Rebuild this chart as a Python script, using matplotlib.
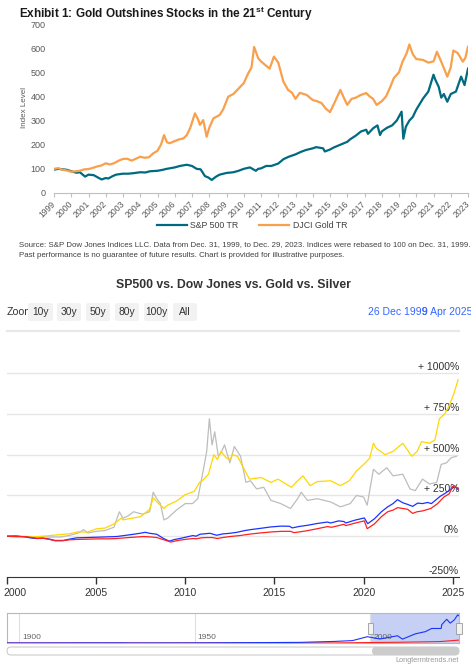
import matplotlib.pyplot as plt
from matplotlib.patches import FancyBboxPatch, Rectangle
from matplotlib.transforms import Affine2D

plt.rcParams['font.family'] = ['Liberation Sans', 'DejaVu Sans']
plt.rcParams['mathtext.fontset'] = 'custom'
plt.rcParams['mathtext.rm'] = 'Liberation Sans'
plt.rcParams['mathtext.bf'] = 'Liberation Sans:bold'

W, H = 471, 669

# ---------------- Exhibit 1 (index level, rebased to 100) ----------------
ex_years = [str(y) for y in range(1999, 2024)]

sp_t = [0, 0.25, 0.5, 0.75, 1.0, 1.3, 1.5, 1.8, 2.0, 2.3, 2.5, 2.76, 3.0, 3.15,
        3.4, 3.6, 4.0, 4.3, 4.6, 5.0, 5.3, 5.56, 6.0, 6.3, 6.53, 7.0, 7.3, 7.7,
        8.0, 8.27, 8.5, 8.75, 8.95, 9.14, 9.4, 9.6, 10.0, 10.4, 10.7, 11.0,
        11.36, 11.7, 11.84, 12.0, 12.3, 12.6, 13.0, 13.3, 13.6, 14.0, 14.3,
        14.6, 15.0, 15.2, 15.6, 15.7, 16.0, 16.2, 16.6, 17.0, 17.16, 17.5,
        17.8, 18.1, 18.2, 18.5, 18.75, 18.9, 19.0, 19.3, 19.6, 19.87, 20.15,
        20.25, 20.4, 20.6, 20.8, 21.0, 21.4, 21.7, 22.0, 22.1, 22.3, 22.45,
        22.6, 22.8, 23.0, 23.3, 23.6, 23.8, 24.0]
sp_level = [97, 100, 98, 96, 90, 84, 86, 68, 76, 74, 66, 56, 62, 60,
            70, 76, 80, 80, 82, 86, 85, 90, 92, 96, 100, 106, 112, 117,
            112, 100, 98, 70, 64, 54, 68, 76, 83, 86, 92, 100,
            106, 92, 100, 102, 112, 112, 122, 140, 150, 160, 170,
            178, 185, 190, 185, 172, 180, 188, 200, 212, 222, 238,
            255, 262, 245, 268, 280, 240, 255, 270, 280, 300, 337,
            225, 275, 300, 315, 345, 392, 420, 490, 470, 440, 395,
            410, 378, 410, 420, 482, 447, 515]

gold_t = [0, 0.25, 0.5, 0.75, 1.0, 1.25, 1.5, 1.75, 2.0, 2.25, 2.5, 2.75, 3.0,
          3.25, 3.5, 3.75, 4.0, 4.25, 4.5, 4.75, 5.0, 5.25, 5.5, 5.75, 6.0,
          6.2, 6.38, 6.55, 6.7, 7.0, 7.25, 7.5, 7.7, 7.9, 8.17, 8.35, 8.46,
          8.65, 8.85, 9.0, 9.24, 9.6, 9.8, 10.1, 10.4, 10.8, 11.0, 11.26,
          11.45, 11.6, 11.84, 12.0, 12.25, 12.5, 12.75, 13.0, 13.3, 13.57,
          13.8, 14.0, 14.25, 14.65, 15.0, 15.25, 15.5, 15.75, 16.0, 16.3,
          16.6, 16.8, 17.0, 17.25, 17.5, 17.75, 18.1, 18.3, 18.5, 18.7, 19.0,
          19.25, 19.5, 19.7, 20.0, 20.2, 20.45, 20.6, 20.8, 21.0, 21.4, 21.7,
          22.0, 22.2, 22.5, 22.8, 23.0, 23.15, 23.4, 23.7, 23.85, 24.0]
gold_level = [100, 103, 96, 93, 88, 90, 92, 98, 99, 104, 110, 114, 123,
              118, 124, 134, 141, 142, 134, 142, 150, 146, 148, 164, 175,
              200, 240, 210, 206, 215, 222, 226, 240, 270, 330, 305, 282,
              302, 233, 270, 309, 323, 345, 399, 410, 440, 455, 496,
              520, 605, 558, 545, 530, 515, 565, 540, 461, 427,
              415, 390, 415, 406, 385, 380, 373, 350, 335, 380,
              427, 395, 365, 390, 395, 405, 414, 400, 390, 365, 380,
              400, 440, 476, 500, 543, 580, 615, 575, 555, 551, 540,
              545, 585, 535, 482, 520, 590, 580, 544, 560, 606]

# ---------------- Longtermtrends (% change since Dec 1999) ----------------
spx_yr = [2000.0, 2000.5, 2001.0, 2001.3, 2001.63, 2002.0, 2002.4, 2002.69,
          2003.16, 2003.5, 2003.9, 2004.5, 2005.03, 2005.6, 2006.15, 2006.7,
          2007.1, 2007.46, 2007.75, 2008.0, 2008.4, 2008.78, 2009.1, 2009.4,
          2009.7, 2010.1, 2010.43, 2010.6, 2010.82, 2011.38, 2011.76, 2012.1,
          2012.5, 2012.9, 2013.3, 2013.7, 2014.2, 2014.8, 2015.4, 2015.84,
          2016.0, 2016.4, 2016.85, 2017.4, 2017.97, 2018.15, 2018.6, 2018.9,
          2019.0, 2019.5, 2020.04, 2020.23, 2020.6, 2021.0, 2021.35, 2021.65,
          2021.9, 2022.2, 2022.47, 2022.75, 2023.03, 2023.3, 2023.59, 2023.8,
          2023.97, 2024.3, 2024.53, 2024.8, 2025.0, 2025.15, 2025.28]
spx_pct = [0, 2, -4, -10, -14, -12, -18, -26,
           -26, -18, -10, -8, -6, -4, -2, 6,
           12, 18, 24, 18, 12, -14, -30, -20,
           -14, -4, 4, 0, 12, 18, 6, 14,
           18, 24, 34, 41, 48, 57, 62, 61,
           51, 60, 67, 78, 87, 81, 94, 90,
           81, 98, 112, 77, 106, 150, 180, 200,
           224, 205, 195, 183, 203, 200, 207, 200,
           215, 245, 260, 280, 300, 302, 288]

dow_yr = [2000.0, 2000.5, 2001.0, 2001.4, 2001.7, 2002.0, 2002.4, 2002.7,
          2003.1, 2003.5, 2003.9, 2004.5, 2005.2, 2005.7, 2006.15, 2006.6,
          2007.1, 2007.65, 2008.0, 2008.4, 2008.8, 2009.2, 2009.4, 2009.7,
          2010.1, 2010.45, 2010.6, 2010.9, 2011.2, 2011.5, 2011.8, 2012.1,
          2012.5, 2013.05, 2013.7, 2014.2, 2014.8, 2015.4, 2015.9, 2016.1,
          2016.5, 2016.85, 2017.4, 2017.97, 2018.2, 2018.6, 2018.9, 2019.0,
          2019.5, 2020.04, 2020.2, 2020.6, 2021.0, 2021.35, 2021.65, 2021.9,
          2022.2, 2022.47, 2022.75, 2023.0, 2023.3, 2023.77, 2024.15, 2024.5,
          2024.8, 2025.0, 2025.1, 2025.28]
dow_pct = [0, -2, -2, -8, -14, -12, -20, -28,
           -28, -22, -20, -18, -16, -16, -14, -10,
           -6, -2, -4, -8, -22, -36, -30, -24,
           -18, -14, -16, -10, -8, -8, -14, -8,
           -2, 4, 14, 20, 26, 30, 30, 22,
           28, 34, 46, 59, 55, 65, 73, 65,
           80, 94, 46, 75, 120, 150, 160, 175,
           170, 165, 140, 150, 155, 170, 200, 240,
           260, 305, 310, 292]

gold_yr = [2000.0, 2000.5, 2001.0, 2001.5, 2002.0, 2002.5, 2003.0, 2003.5,
           2004.0, 2004.5, 2005.0, 2005.5, 2006.0, 2006.4, 2006.5, 2007.0,
           2007.5, 2008.0, 2008.2, 2008.5, 2008.8, 2009.0, 2009.5, 2010.0,
           2010.5, 2010.8, 2011.0, 2011.3, 2011.6, 2011.8, 2012.0, 2012.3,
           2012.5, 2012.65, 2012.93, 2013.3, 2013.6, 2014.25, 2014.8, 2015.2,
           2015.95, 2016.3, 2016.6, 2017.0, 2017.4, 2018.15, 2018.7, 2019.2,
           2019.6, 2020.1, 2020.35, 2020.55, 2020.7, 2021.2, 2021.65, 2022.2,
           2022.7, 2023.0, 2023.25, 2023.7, 2024.0, 2024.25, 2024.55, 2024.8,
           2025.05, 2025.3]
gold_pct = [0, -4, -3, -4, 0, 5, 10, 15,
            27, 25, 45, 50, 75, 110, 100, 110,
            120, 165, 235, 200, 170, 190, 215, 255,
            275, 330, 345, 380, 500, 470, 520, 480,
            470, 500, 490, 410, 350, 360, 330, 350,
            300, 340, 370, 310, 335, 340, 310, 340,
            400, 450, 480, 570, 540, 500, 520, 570,
            490, 520, 580, 570, 590, 720, 750, 800,
            870, 960]

silver_yr = [2000.0, 2000.5, 2001.0, 2001.5, 2002.0, 2003.0, 2003.5, 2004.0,
             2004.3, 2004.55, 2005.0, 2005.5, 2006.0, 2006.3, 2006.5, 2006.8,
             2007.1, 2007.6, 2008.0, 2008.2, 2008.4, 2008.6, 2008.8, 2009.0,
             2009.5, 2010.0, 2010.4, 2010.7, 2011.0, 2011.2, 2011.35, 2011.5,
             2011.65, 2011.85, 2012.0, 2012.2, 2012.5, 2012.75, 2013.1, 2013.4,
             2013.65, 2014.0, 2014.4, 2014.8, 2015.35, 2015.9, 2016.3, 2016.5,
             2016.85, 2017.4, 2018.15, 2018.7, 2019.25, 2019.6, 2020.0, 2020.2,
             2020.55, 2020.85, 2021.3, 2021.65, 2022.2, 2022.6, 2022.9, 2023.3,
             2023.7, 2024.1, 2024.35, 2024.65, 2024.9, 2025.2]
silver_pct = [0, -3, -3, -6, -5, -5, 5, 20,
              40, 20, 30, 35, 55, 150, 110, 125,
              150, 135, 150, 270, 230, 200, 100, 110,
              160, 200, 200, 230, 400, 520, 720, 560,
              640, 490, 510, 560, 450, 550, 490, 330,
              340, 290, 300, 220, 200, 170, 230, 270,
              220, 230, 210, 180, 200, 250, 240, 190,
              410, 380, 420, 370, 380, 290, 280, 350,
              320, 330, 440, 450, 480, 490]

pct_levels = [-250, 0, 250, 500, 750, 1000]
pct_labels = ['-250%', '0%', '+ 250%', '+ 500%', '+ 750%', '+ 1000%']
year_ticks = [2000, 2005, 2010, 2015, 2020, 2025]
zoom_buttons = ['10y', '30y', '50y', '80y', '100y', 'All']

# navigator (full history)
nav_yr = [1896.6, 1929, 1932, 1950, 1970, 1980, 1990, 1995, 1999.2, 2002.8,
          2007.8, 2009.2, 2012.9, 2015.7, 2017.5, 2020.2, 2020.4, 2021.8,
          2022.8, 2024.0, 2024.9, 2025.3]
nav_spx = [5, 30, 6, 20, 90, 130, 330, 500, 1300, 830,
           1500, 800, 1900, 2340, 3000, 3000, 3800, 4900,
           4100, 4800, 5800, 5600]
nav_dow_yr = [1896.6, 1990, 2000, 2008, 2020, 2025.3]
nav_dow = [0, 10, 100, 150, 300, 600]
nav_ticks = [1900, 1950, 2000]

# ---------------- figure ----------------
fig = plt.figure(figsize=(W / 100, H / 100), dpi=100)
pxT = Affine2D().scale(1, -1).translate(0, H)   # image pixels, origin top-left


def axes_px(left, top, right, bottom):
    return fig.add_axes([left / W, 1 - bottom / H, (right - left) / W, (bottom - top) / H])


# ---- Exhibit 1 ----
fig.text(19, 14, r'Exhibit 1: Gold Outshines Stocks in the 21$^{\mathbf{st}}$ Century',
         transform=pxT, fontsize=8.5, weight='bold', color='#1a1a1a', va='center')

ax1 = axes_px(54, 24, 468, 193)
l_sp, = ax1.plot(sp_t, sp_level, color='#006a80', lw=1.6, label='S&P 500 TR')
l_gd, = ax1.plot(gold_t, gold_level, color='#f8a04c', lw=1.6, label='DJCI Gold TR')
ax1.set_xlim(0, 24)
ax1.set_ylim(0, 700)
ax1.set_yticks(range(0, 701, 100))
ax1.set_xticks(range(len(ex_years)))
ax1.set_xticklabels(ex_years, rotation=45, ha='right', va='center', rotation_mode='anchor')
ax1.tick_params(axis='x', labelsize=6.2, colors='#595959', length=3, color='#bfbfbf', pad=4)
ax1.tick_params(axis='y', labelsize=6.5, colors='#595959', length=0, pad=6)
for s in ['left', 'top', 'right']:
    ax1.spines[s].set_visible(False)
ax1.spines['bottom'].set_color('#bfbfbf')
fig.text(25, 107, 'Index Level', transform=pxT, rotation=90, fontsize=5.8,
         color='#595959', ha='center', va='center')

fig.legend(handles=[l_sp, l_gd], loc='center', bbox_to_anchor=(252, 226), bbox_transform=pxT,
           ncol=2, frameon=False, fontsize=6.3, handlelength=3.4, handletextpad=0.4,
           columnspacing=2.4, labelcolor='#404040')

fig.text(19, 244.5, 'Source: S&P Dow Jones Indices LLC. Data from Dec. 31, 1999, to Dec. 29, 2023. '
         'Indices were rebased to 100 on Dec. 31, 1999.', transform=pxT, fontsize=5.65,
         color='#404040', va='center')
fig.text(19, 255.5, 'Past performance is no guarantee of future results. Chart is provided for '
         'illustrative purposes.', transform=pxT, fontsize=5.65, color='#404040', va='center')

# ---- Longtermtrends chart ----
fig.text(233, 285, 'SP500 vs. Dow Jones vs. Gold vs. Silver', transform=pxT, ha='center',
         va='center', fontsize=8.8, weight='bold', color='#333333')

fig.text(7, 312, 'Zoom', transform=pxT, fontsize=7.6, color='#333333', va='center', zorder=3)
button_x = [(28, 53), (57, 81), (86, 110), (115, 139), (144, 168), (173, 197)]
for lab, (x0, x1) in zip(zoom_buttons, button_x):
    fig.add_artist(FancyBboxPatch((x0, 303), x1 - x0, 18, boxstyle='round,pad=0,rounding_size=2',
                                  transform=pxT, fc='#f2f2f2', ec='none', zorder=4))
    fig.text((x0 + x1) / 2, 312, lab, transform=pxT, fontsize=7.4, color='#333333',
             ha='center', va='center', zorder=5)
fig.text(368, 312, '26 Dec 1999', transform=pxT, fontsize=7.5, color='#3366ff', va='center')
fig.text(422, 312, '9 Apr 2025', transform=pxT, fontsize=7.5, color='#3366ff', va='center')

fig.add_artist(plt.Line2D([7, 459], [331, 331], transform=pxT, color='#e8e8e8', lw=1.6))

ax2 = axes_px(7, 331, 459, 577)
ax2.plot(silver_yr, silver_pct, color='#bdbdbd', lw=0.9, zorder=3)
ax2.plot(gold_yr, gold_pct, color='#ffd700', lw=0.9, zorder=3)
ax2.plot(spx_yr, spx_pct, color='#1a33ff', lw=0.9, zorder=4)
ax2.plot(dow_yr, dow_pct, color='#ff2020', lw=0.9, zorder=4)
ax2.set_xlim(2000, 2025.35)
ax2.set_ylim(-250, 1258)
ax2.set_yticks(pct_levels[1:])
ax2.yaxis.grid(True, color='#e6e6e6', lw=1)
ax2.set_axisbelow(True)
ax2.tick_params(axis='y', length=0, labelleft=False)
ax2.set_xticks(year_ticks)
ax2.tick_params(axis='x', direction='out', length=5, width=1, color='#333333',
                labelsize=7.5, labelcolor='#333333', pad=3)
first = ax2.get_xticklabels()[0]
first.set_horizontalalignment('left')
first.set_transform(first.get_transform() + Affine2D().translate(-4, 0))
for s in ['left', 'top', 'right']:
    ax2.spines[s].set_visible(False)
ax2.spines['bottom'].set_color('#333333')
for lev, lab in zip(pct_levels, pct_labels):
    ax2.text(1.0, lev + 6, lab, transform=ax2.get_yaxis_transform(), ha='right', va='bottom',
             fontsize=7.5, color='#333333', zorder=2)

# navigator
ax3 = axes_px(7, 613, 459, 643)
ax3.axvspan(2000, 2025.3, color='#c5d0f4', zorder=0, lw=0)
for t in nav_ticks:
    ax3.axvline(t, color='#e0e0e0', lw=0.8, zorder=1)
    ax3.text(t + 0.9, 0.17, str(t), transform=ax3.get_xaxis_transform(), fontsize=6,
             color='#666666', va='center', zorder=2)
ax3.plot(nav_dow_yr, nav_dow, color='#ff2020', lw=0.8, zorder=3)
ax3.plot(nav_yr, nav_spx, color='#1a33ff', lw=0.8, zorder=3)
ax3.set_xlim(1896.6, 2025.3)
ax3.set_ylim(0, 6200)
ax3.set_xticks([])
ax3.set_yticks([])
for s in ax3.spines.values():
    s.set_color('#b8b8b8')
    s.set_linewidth(0.8)

for hx in [367.5, 456]:
    fig.add_artist(Rectangle((hx, 623), 5.5, 11, transform=pxT, fc='#f2f2f2', ec='#999999',
                             lw=0.6, zorder=5))

fig.add_artist(FancyBboxPatch((7, 647), 452, 8, boxstyle='round,pad=0,rounding_size=4',
                              transform=pxT, fc='white', ec='#cccccc', lw=0.8))
fig.add_artist(FancyBboxPatch((372, 647), 87, 8, boxstyle='round,pad=0,rounding_size=4',
                              transform=pxT, fc='#cccccc', ec='none'))
fig.text(459, 660, 'Longtermtrends.net', transform=pxT, fontsize=5.3, color='#999999',
         ha='right', va='center')

fig.savefig('out.png', dpi=100)
